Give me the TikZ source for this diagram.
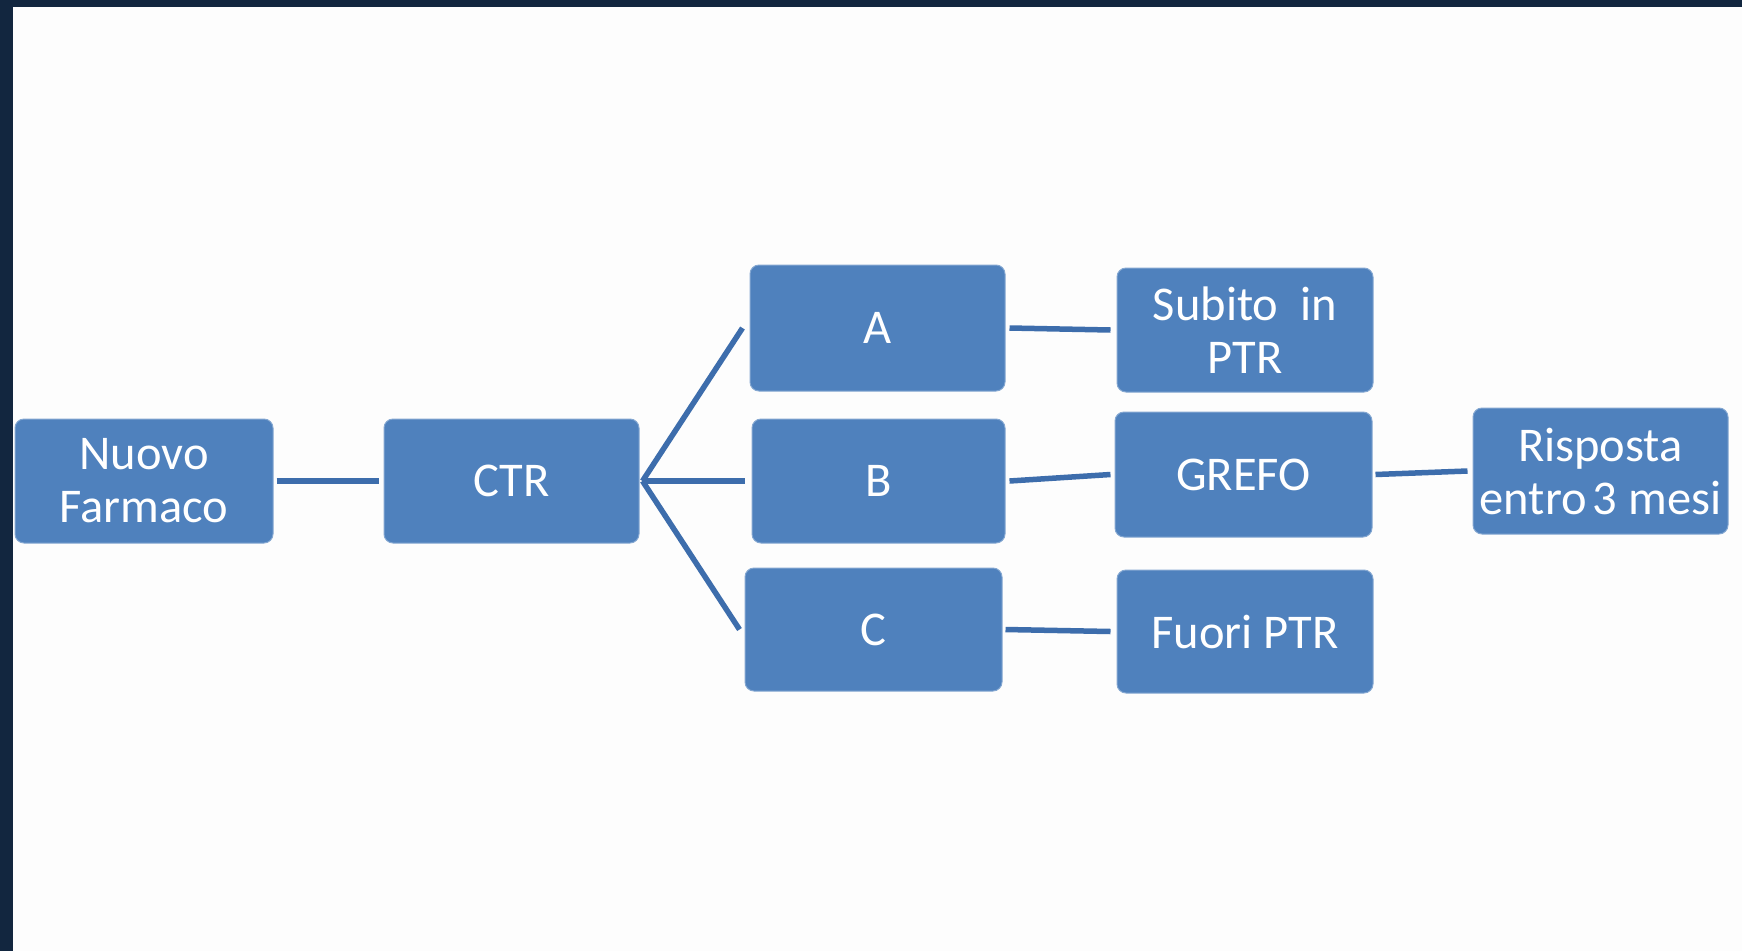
\documentclass[tikz,border=0pt]{standalone}
\usepackage{fontspec}
\setmainfont{Carlito}
\definecolor{boxblue}{HTML}{4F81BD}
\definecolor{linkblue}{HTML}{3D6DAC}
\definecolor{frame}{HTML}{12263F}
\definecolor{paper}{HTML}{FDFDFD}
\tikzset{
  stepbox/.style={rectangle, rounded corners=9pt, fill=boxblue, draw=boxblue!70!white,
    line width=1pt, text=white, inner sep=0pt, align=center,
    font=\fontsize{48.5}{53}\selectfont},
  link/.style={draw=linkblue, line width=5.5pt}
}
\begin{document}
\begin{tikzpicture}[x=1pt,y=-1pt]
  % page background and dark frame strips
  \fill[paper] (0,0) rectangle (1742,951);
  \fill[frame] (0,0) rectangle (1742,7);
  \fill[frame] (0,0) rectangle (13,951);
  \useasboundingbox (0,0) rectangle (1742,951);

  % boxes
  \node[stepbox, minimum width=258pt, minimum height=124pt] (nf)  at (144,481)    {Nuovo\\Farmaco};
  \node[stepbox, minimum width=255pt, minimum height=124pt] (ctr) at (511.5,481)  {CTR};
  \node[stepbox, minimum width=255pt, minimum height=126pt] (a)   at (877.5,328)  {A};
  \node[stepbox, minimum width=253pt, minimum height=124pt] (b)   at (878.5,481)  {B};
  \node[stepbox, minimum width=257pt, minimum height=123pt] (c)   at (873.5,629.5){C};
  \node[stepbox, minimum width=256pt, minimum height=124pt] (sub) at (1245,330)   {Subito\ \ in\\PTR};
  \node[stepbox, minimum width=257pt, minimum height=125pt] (gre) at (1243.5,474.5){GREFO};
  \node[stepbox, minimum width=256pt, minimum height=123pt] (fuo) at (1245,631.5) {Fuori PTR};
  \node[stepbox, minimum width=255pt, minimum height=126pt] (ris) at (1600.5,471) {Risposta\\entro\hspace{0.12em}3 mesi};

  % connectors
  \draw[link] ([xshift=3pt]nf.east) -- ([xshift=-5pt]ctr.west);
  \coordinate (fan) at ([xshift=3pt]ctr.east);
  \draw[link] (fan) -- ([xshift=-7pt]a.west);
  \draw[link] (fan) -- ([xshift=-7pt]b.west);
  \draw[link] (fan) -- ([xshift=-5pt]c.west);
  \draw[link] ([xshift=4pt]a.east) -- ([xshift=-6pt]sub.west);
  \draw[link] ([xshift=4pt]b.east) -- ([xshift=-4pt]gre.west);
  \draw[link] ([xshift=3pt]c.east) -- ([xshift=-6pt]fuo.west);
  \draw[link] ([xshift=3pt]gre.east) -- ([xshift=-5pt]ris.west);
\end{tikzpicture}
\end{document}
